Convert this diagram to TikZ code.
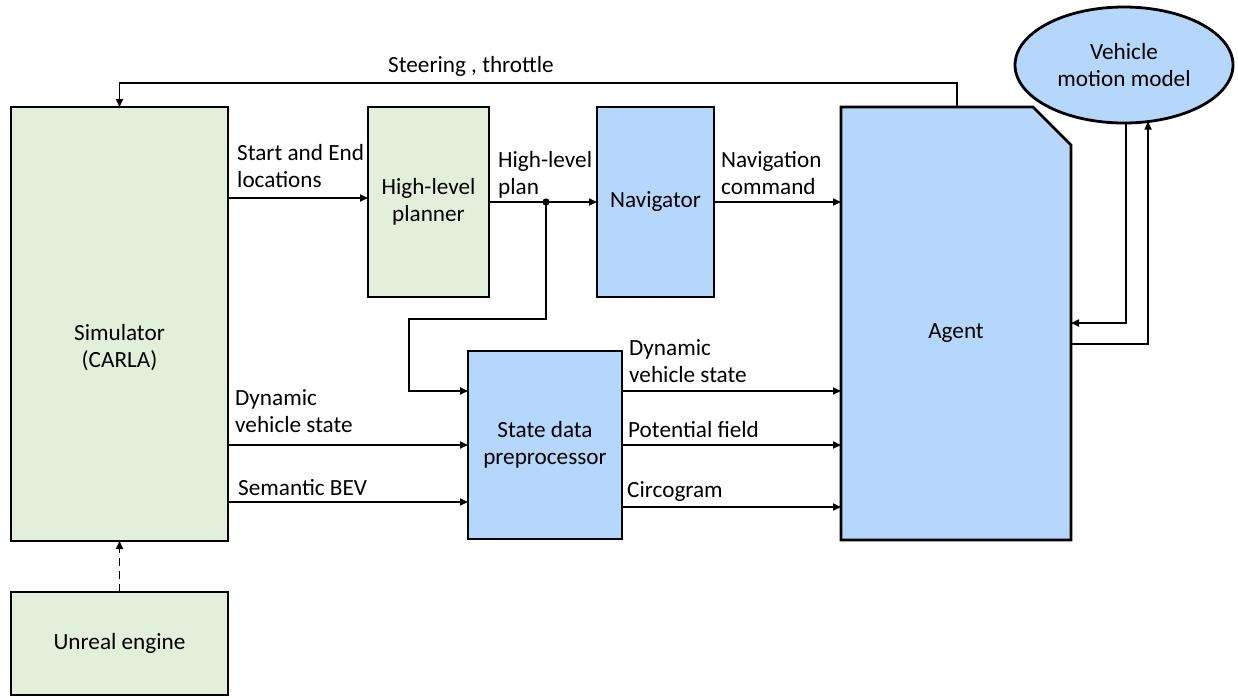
\documentclass[tikz,border=0pt]{standalone}
\usepackage{fontspec}
\setmainfont{Carlito}
\usetikzlibrary{arrows.meta,shapes.geometric}
\definecolor{boxgreen}{RGB}{226,239,218}
\definecolor{boxblue}{RGB}{181,215,251}
\begin{document}
\begin{tikzpicture}[x=1pt,y=-1pt,
  font=\fontsize{23.2}{27}\selectfont,
  block/.style={draw=black, line width=2.8pt, inner sep=0pt, outer sep=0pt, align=center},
  gblock/.style={block, fill=boxgreen},
  bblock/.style={block, fill=boxblue},
  arr/.style={line width=1.7pt, -{Triangle[length=8pt,width=7pt]}},
  lbl/.style={anchor=base west, inner sep=0pt, align=left}]
\useasboundingbox (0,0) rectangle (1238,697);

% main blocks
\node[gblock, minimum width=217, minimum height=434] (sim) at (119.5,324) {};
\node (simtext) at ([yshift=-24pt]sim.center) [align=center] {Simulator\\(CARLA)};
\node[gblock, minimum width=217, minimum height=103] (unreal) at (119.5,643.5) {Unreal engine};
\node[gblock, minimum width=121, minimum height=190] (hlp) at (428.5,202) {High-level\\planner};
\node[bblock, minimum width=117, minimum height=190] (nav) at (655.5,202) {Navigator};
\node[bblock, minimum width=154, minimum height=188] (sdp) at (545,445) {State data\\preprocessor};

% agent with a cut corner
\node[draw=none, minimum width=230, minimum height=433, inner sep=0pt, outer sep=0pt] (agent) at (956,323.5) {};
\draw[line width=2.8pt, fill=boxblue, line join=miter]
  (agent.north west) -- ([xshift=-38pt]agent.north east) -- ([yshift=-38pt]agent.north east)
  -- (agent.south east) -- (agent.south west) -- cycle;
\node (agenttext) at (956,333) {Agent};

\node[bblock, ellipse, minimum width=218, minimum height=116] (vmm) at (1124,65) {Vehicle\\motion model};

% connectors (multi-line labels sit on the baseline of their last line)
\draw[arr] ([xshift=1pt]agent.north) -- ++(0,-24) -| (sim.north);
\node[lbl] (steerlbl) at (388,72) {Steering , throttle};

\draw[arr, dash pattern=on 8pt off 5pt] (unreal.north) -- (sim.south);

\draw[arr] (sim.east |- 0,198) -- (hlp.west |- 0,198);
\node[lbl] (selbl) at (237,187) {Start and End\\locations};

\coordinate (split) at (546,202);
\draw[arr] (hlp.east) -- (nav.west);
\fill (split) circle (3.6pt);
\node[lbl] (hlplbl) at (498,194) {High-level\\plan};

\draw[arr] (split) -- ++(0,117) -| ++(-137,72) -- (sdp.west |- 0,391);

\draw[arr] (nav.east) -- (agent.west |- nav.east);
\node[lbl] (navlbl) at (721,194) {Navigation\\command};

\draw[arr] (sim.east |- 0,445) -- (sdp.west |- 0,445);
\node[lbl] (dvs1lbl) at (235,432) {Dynamic\\vehicle state};
\draw[arr] (sim.east |- 0,502) -- (sdp.west |- 0,502);
\node[lbl] (bevlbl) at (238,495) {Semantic BEV};

\draw[arr] (sdp.east |- 0,391) -- (agent.west |- 0,391);
\node[lbl] (dvs2lbl) at (629,382) {Dynamic\\vehicle state};
\draw[arr] (sdp.east |- 0,445) -- (agent.west |- 0,445);
\node[lbl] (pflbl) at (628,437) {Potential field};
\draw[arr] (sdp.east |- 0,507) -- (agent.west |- 0,507);
\node[lbl] (circlbl) at (627,497) {Circogram};

\draw[arr] (vmm.-88) |- (agent.east |- 0,323);
\draw[arr] (agent.east |- 0,344) -| (vmm.-67);
\end{tikzpicture}
\end{document}
